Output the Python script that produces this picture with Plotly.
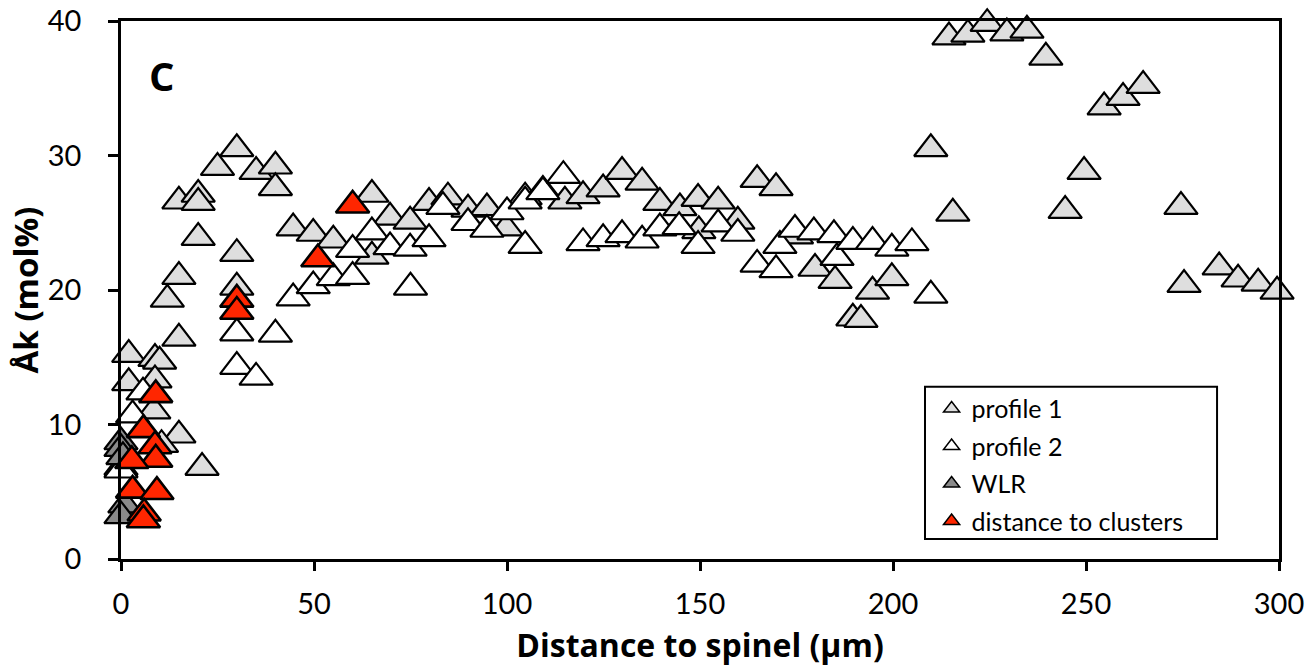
import plotly.graph_objects as go

# ---------------- data ----------------
p1_x = [2, 8.8, 10, 15, 2, 8.8, 15, 21, 10.5, 0, 8.5,
        12, 15, 20, 15, 20, 20, 25, 30, 35, 40, 40, 30, 30,
        44.6, 49.8, 55, 65, 65, 69.7, 74.9, 79.8, 84.7, 89.9, 94.8, 99.8,
        104.7, 109.3, 115, 119.7, 124.9, 129.8, 135, 139.6, 144.8, 149.5,
        154.7, 159.8, 164.8, 169.7, 149.7, 175, 179.8, 185, 189.6, 191.7,
        194.7, 199.7, 209.8, 215.5, 214.5, 219.4, 224.4, 229.5, 234.7,
        239.6, 244.6, 249.5, 254.7, 259.6, 264.8, 274.6, 275.4, 284.5,
        289.4, 294.6, 299.5]
p1_y = [15.2, 14.9, 14.7, 16.4, 13.1, 13.3, 9.2, 6.8, 8.5, 6.8, 11.0,
        19.3, 21.0, 23.9, 26.6, 27.1, 26.5, 29.1, 30.5, 28.8, 29.2, 27.6, 22.7, 20.2,
        24.6, 24.2, 23.7, 27.1, 22.5, 25.4, 25.1, 26.5, 26.9, 26.0, 26.1, 24.6,
        26.9, 27.4, 26.6, 27.0, 27.5, 28.8, 28.0, 26.5, 26.1, 26.8,
        26.6, 25.1, 28.2, 27.6, 24.4, 24.0, 21.6, 20.7, 17.9, 17.8,
        19.9, 20.9, 30.5, 25.7, 38.8, 39.0, 39.8, 39.1, 39.3,
        37.3, 25.9, 28.8, 33.6, 34.3, 35.2, 26.2, 20.4, 21.7,
        20.8, 20.5, 19.9]

p2_x = [3, 5.7, 0, 30, 40, 30, 35, 44.6, 49.8, 55, 60, 60, 65, 69.7,
        74.9, 75, 79.8, 83.4, 89.9, 94.8, 100, 104.7, 104.7, 109.3, 114.6,
        119.7, 124.9, 129.8, 135, 139.6, 144.6, 149.5, 154.7, 159.8,
        164.8, 169.7, 170.7, 174.6, 179.5, 184.7, 185.5, 189.6, 194.7,
        199.7, 204.9, 209.8]
p2_y = [10.7, 12.4, 6.6, 16.8, 16.7, 14.3, 13.5, 19.4, 20.3, 20.9, 21.0, 23.0, 24.3, 23.2,
        23.1, 20.2, 23.8, 26.2, 25.0, 24.5, 25.8, 26.6, 23.3, 27.3, 28.5,
        23.5, 23.8, 24.1, 23.7, 24.6, 24.7, 23.3, 24.9, 24.2,
        21.9, 21.5, 23.3, 24.5, 24.3, 24.1, 22.4, 23.6, 23.6,
        23.1, 23.5, 19.6]

wlr_x = [0, 0, 0.5, 1, 0]
wlr_y = [8.7, 8.2, 7.6, 4.0, 3.2]

cl_x = [9, 5.8, 8.8, 9, 2.8, 3, 9.3, 6, 5.8, 30, 30, 51, 60]
cl_y = [12.2, 9.6, 8.4, 7.4, 7.3, 5.1, 5.0, 3.4, 2.9, 19.3, 18.4, 22.3, 26.3]

names = ["profile 1", "profile 2", "WLR", "distance to clusters"]
fills = ["#DEDEDE", "#FFFFFF", "#8A8A8A", "#FF2600"]
xs = [p1_x, p2_x, wlr_x, cl_x]
ys = [p1_y, p2_y, wlr_y, cl_y]

fig = go.Figure()
for i in range(4):
    fig.add_trace(go.Scatter(
        x=xs[i], y=ys[i], mode="markers", name=names[i],
        showlegend=False, cliponaxis=False,
        marker=dict(symbol="triangle-up", size=29, color=fills[i],
                    line=dict(color="black", width=2.2 if i < 3 else 2.6))))
# legend entries (small symbols, as in the reference legend)
for i in range(4):
    fig.add_trace(go.Scatter(
        x=[None], y=[None], mode="markers", name=names[i],
        legendgroup=names[i],
        marker=dict(symbol="triangle-up", size=14, color=fills[i],
                    line=dict(color="black", width=1.5))))

fig.update_layout(
    width=1307, height=666,
    margin=dict(l=121, r=28, t=21, b=107),
    paper_bgcolor="white", plot_bgcolor="white",
    font=dict(family="Lato, Open Sans, sans-serif", color="black"),
    legend=dict(x=0.700, y=0.322, xanchor="left", yanchor="top",
                bgcolor="rgba(0,0,0,0)", borderwidth=0,
                font=dict(size=25, family="Lato"), tracegroupgap=2,
                itemwidth=30),
    xaxis=dict(range=[0, 300], dtick=50, showgrid=False, zeroline=False,
               automargin=False, ticklabeloverflow="allow",
               showline=True, linecolor="black", linewidth=2.5, mirror=True,
               ticks="outside", ticklen=9, tickwidth=2.5, tickcolor="black",
               tickfont=dict(size=29, family="Lato"), ticklabelstandoff=8,
               title=dict(text="<b>Distance to spinel (µm)</b>",
                          font=dict(size=32, family="Open Sans"), standoff=18)),
    yaxis=dict(range=[0, 40], dtick=10, showgrid=False, zeroline=False,
               automargin=False, ticklabeloverflow="allow",
               showline=True, linecolor="black", linewidth=2.5, mirror=True,
               ticks="outside", ticklen=10, tickwidth=2.5, tickcolor="black",
               tickfont=dict(size=29, family="Lato"), ticklabelstandoff=21,
               title=dict(text="<b>Åk (mol%)</b>",
                          font=dict(size=33, family="Open Sans"), standoff=0)),
    shapes=[dict(type="rect", xref="paper", yref="paper",
                 x0=0.6943, x1=0.9465, y0=0.037, y1=0.32,
                 line=dict(color="black", width=2), fillcolor="rgba(0,0,0,0)",
                 layer="above")],
    annotations=[dict(text="<b>C</b>", xref="paper", yref="paper",
                      x=0.0354, y=0.8996, xanchor="center", yanchor="middle",
                      showarrow=False,
                      font=dict(size=40, family="Open Sans"))],
)

# remove the page's default 8px body margin so the figure fills the window
fig.write_html("out.html",
               config={"displayModeBar": False},
               post_script="document.body.style.margin='0';"
                           "document.body.style.overflow='hidden';")
